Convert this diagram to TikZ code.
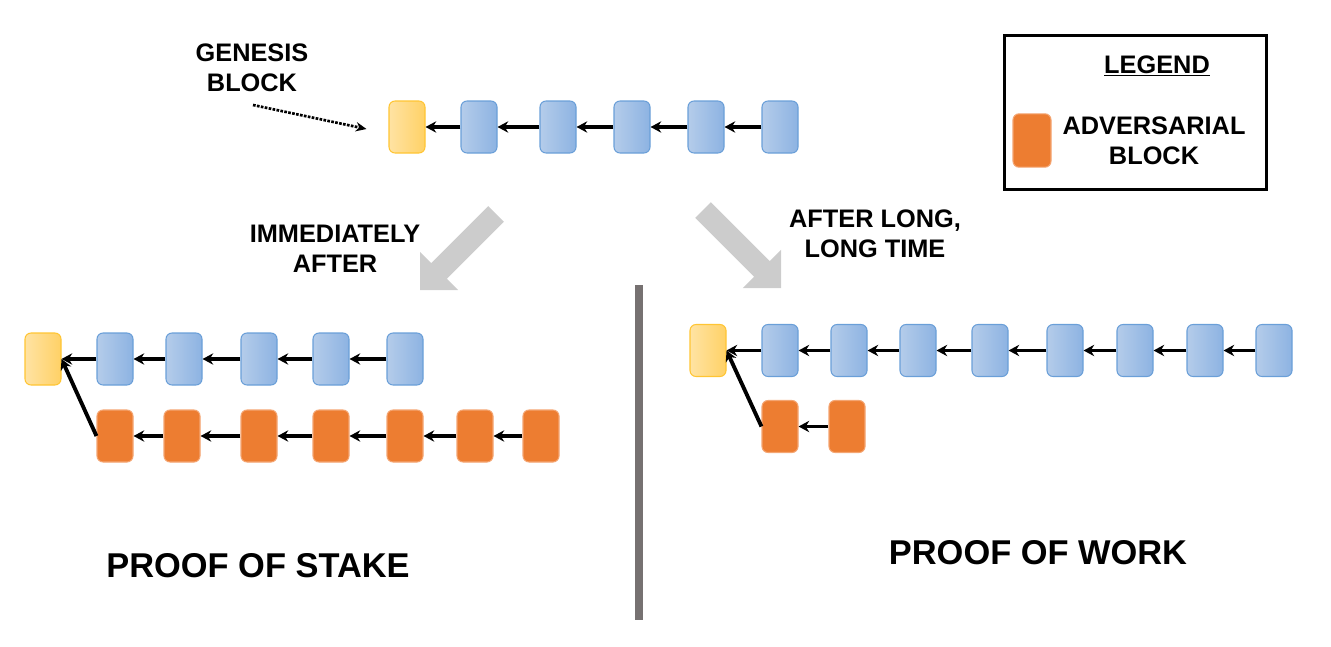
\documentclass[tikz,border=0pt]{standalone}
\usepackage{fontspec}
\setmainfont{Liberation Sans}
\usepackage{xcolor}
\usetikzlibrary{arrows.meta}
\definecolor{blueL}{HTML}{B4CCEA}
\definecolor{blueR}{HTML}{8DB3E2}
\definecolor{blueB}{HTML}{6A9FD8}
\definecolor{yelL}{HTML}{FFE3A3}
\definecolor{yelR}{HTML}{FFD166}
\definecolor{yelB}{HTML}{FFC533}
\definecolor{adv}{HTML}{ED7D31}
\definecolor{advB}{HTML}{F4A572}
\definecolor{divgray}{HTML}{767171}

\begin{document}
\begin{tikzpicture}[x=0.75pt, y=-0.75pt,
  blk/.style={rounded corners=4.5pt, minimum width=27pt, minimum height=39pt, inner sep=0pt, line width=0.8pt},
  honest/.style={blk, draw=blueB, left color=blueL, right color=blueR},
  genesis/.style={blk, draw=yelB, left color=yelL, right color=yelR},
  adversary/.style={blk, draw=advB, fill=adv},
  link/.style={line width=2.9pt, -{Stealth[length=8pt,width=8.5pt]}},
  pointer/.style={line width=2pt, densely dotted, -{Stealth[length=8pt,width=7pt]}},
  bigarrow/.style={fill=black!20},
  label/.style={font=\bfseries\fontsize{19}{22.5}\selectfont, align=center},
  title/.style={font=\bfseries\fontsize{25.8}{30}\selectfont},
]
\useasboundingbox (0,0) rectangle (1331,646);
%%%%% Original chain %%%%%
\node[genesis] (top0) at (407,127) {};
\foreach \x [count=\i] in {479,558,632,706,780}{
\node[honest] (top\i) at (\x,127) {};
}
\foreach \i [count=\j from 0] in {1,...,5}{
\draw[link] (top\i.west) -- (top\j.east);
}
\node[label] (genlabel) at (252,68) {GENESIS\\BLOCK};
\coordinate (gentail) at (253,105);
\draw[pointer] (gentail) -- ([xshift=-16.5pt,yshift=-1.5pt]top0.west);
%%%%% Big arrows %%%%%
\fill[bigarrow] (420,290) -- (458.2,290) -- (446.9,278.7) -- (503.8,221.8) -- (488.2,206.2) -- (431.3,263.1) -- (420,251.8) -- cycle;
\fill[bigarrow] (781,288) -- (742.8,288) -- (754.1,276.7) -- (695.2,217.8) -- (710.8,202.2) -- (769.7,261.1) -- (781,249.8) -- cycle;
\node[label] (immlabel) at (335,249) {IMMEDIATELY\\AFTER};
\node[label] (longlabel) at (875,234) {AFTER LONG,\\LONG TIME};
%%%%% Proof of stake %%%%%
\node[genesis] (posh0) at (43,359) {};
\foreach \x [count=\i] in {115,184,259,331,405}{
\node[honest] (posh\i) at (\x,359) {};
}
\foreach \x [count=\i] in {115,182,259,331,405,475,541}{
\node[adversary] (posa\i) at (\x,436) {};
}
\foreach \i [count=\j from 0] in {1,...,5}{
\draw[link] (posh\i.west) -- (posh\j.east);
}
\foreach \i [count=\j] in {2,...,7}{
\draw[link] (posa\i.west) -- (posa\j.east);
}
\draw[link] (posa1.west) -- (posh0.east);
\node[title] (postitle) at (258,566) {PROOF OF STAKE};
%%%%% Divider %%%%%
\coordinate (divtop) at (639,285);
\coordinate (divbot) at (639,620);
\draw[line width=6pt, draw=divgray] (divtop) -- (divbot);
%%%%% Proof of work %%%%%
\node[genesis] (powh0) at (708,350.5) {};
\foreach \x [count=\i] in {780,849,918,990,1065,1135,1205,1274}{
\node[honest] (powh\i) at (\x,350.5) {};
}
\node[adversary] (powa1) at (780,426.5) {};
\node[adversary] (powa2) at (847,426.5) {};
\foreach \i [count=\j from 0] in {1,...,8}{
\draw[link] (powh\i.west) -- (powh\j.east);
}
\draw[link] (powa2.west) -- (powa1.east);
\draw[link] (powa1.west) -- (powh0.east);
\node[title] (powtitle) at (1038,553) {PROOF OF WORK};
%%%%% Legend %%%%%
\node[draw, line width=2.2pt, minimum width=197pt, minimum height=115pt, inner sep=0pt] (legend) at (1135.5,112.5) {};
\node[label, anchor=base] (legtitle) at (1157,73) {\underline{LEGEND}};
\node[adversary, minimum width=28.5pt, minimum height=40pt] (legblock) at (1032,140.5) {};
\node[label] (legtext) at (1154,141) {ADVERSARIAL\\BLOCK};
\end{tikzpicture}
\end{document}
